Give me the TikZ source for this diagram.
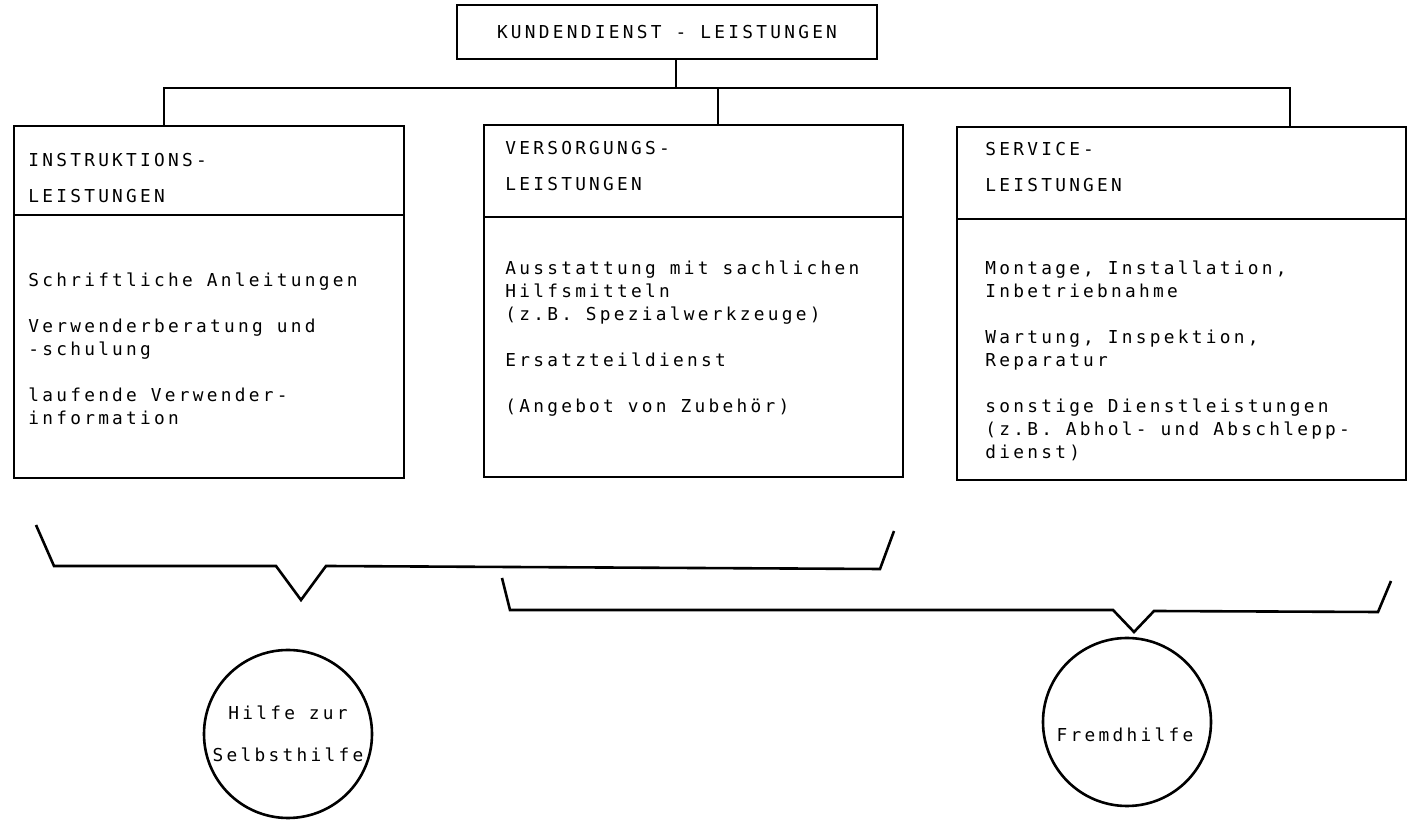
\documentclass[tikz,border=0pt]{standalone}
\usepackage{fontspec}
\newfontfamily\typewriter[LetterSpace=18.4]{DejaVu Sans Mono}
\usetikzlibrary{positioning}

\begin{document}
\begin{tikzpicture}[
  x=0.5pt, y=-0.5pt,
  font=\typewriter\fontsize{8.9pt}{11.5pt}\selectfont,
  line width=1.3pt,
  kbox/.style={draw=black, rectangle, inner sep=0pt},
  headtext/.style={anchor=base west, inner sep=0pt, align=left, font=\typewriter\fontsize{8.9pt}{18pt}\selectfont},
  bodytext/.style={anchor=base west, inner sep=0pt, align=left},
  helpcirc/.style={draw=black, circle, minimum size=84pt, inner sep=0pt, align=center, font=\typewriter\fontsize{8.9pt}{21pt}\selectfont}
]
  \useasboundingbox (0,0) rectangle (1410,822);

  \node[kbox, minimum width=210pt, minimum height=27pt] (kd) at (667,32) {KUNDENDIENST - LEISTUNGEN};

  \node[kbox, minimum width=195pt, minimum height=44.5pt] (ihead) at (209,170.5) {};
  \node[kbox, minimum width=195pt, minimum height=131.5pt] (ibody) at (209,346.5) {};
  \node[kbox, minimum width=209.5pt, minimum height=46pt] (vhead) at (693.5,171) {};
  \node[kbox, minimum width=209.5pt, minimum height=130pt] (vbody) at (693.5,347) {};
  \node[kbox, minimum width=224.5pt, minimum height=46pt] (shead) at (1181.5,173) {};
  \node[kbox, minimum width=224.5pt, minimum height=130.5pt] (sbody) at (1181.5,349.5) {};

  % base = baseline of the last line
  \node[headtext] (ititle) at (27,203) {INSTRUKTIONS-\\LEISTUNGEN};
  \node[bodytext] (itext) at (27,425) {Schriftliche Anleitungen\\[11.5pt]Verwenderberatung und\\-schulung\\[11.5pt]laufende Verwender-\\information};
  \node[headtext] (vtitle) at (504,191) {VERSORGUNGS-\\LEISTUNGEN};
  \node[bodytext] (vtext) at (504,413) {Ausstattung mit sachlichen\\Hilfsmitteln\\(z.B. Spezialwerkzeuge)\\[11.5pt]Ersatzteildienst\\[11.5pt](Angebot von Zubehör)};
  \node[headtext] (stitle) at (984,192) {SERVICE-\\LEISTUNGEN};
  \node[bodytext] (stext) at (984,459) {Montage, Installation,\\Inbetriebnahme\\[11.5pt]Wartung, Inspektion,\\Reparatur\\[11.5pt]sonstige Dienstleistungen\\(z.B. Abhol- und Abschlepp-\\dienst)};

  \coordinate (stem) at (676,88);
  \coordinate (busL) at (164,88);
  \coordinate (busR) at (1290,88);
  \coordinate (dropM) at (718,88);
  \draw (stem |- kd.south) -- (stem);
  \draw (busL |- ihead.north) -- (busL) -- (busR) -- (busR |- shead.north);
  \draw (dropM) -- (dropM |- vhead.north);

  \draw (36,525) -- (54,566) -- (276,566) -- (301,600) -- (326,566) -- (880,569) -- (894,531);
  \draw (502,578) -- (510,610) -- (1113,610) -- (1134,632) -- (1154,611) -- (1378,612) -- (1391,581);

  \node[helpcirc] (selbst) at (288,734) {Hilfe zur\\Selbsthilfe};
  \node[helpcirc] (fremd) at (1127,722) {};
  \node[anchor=base, inner sep=0pt] (fremdtext) at (1125,742) {Fremdhilfe};
\end{tikzpicture}
\end{document}
